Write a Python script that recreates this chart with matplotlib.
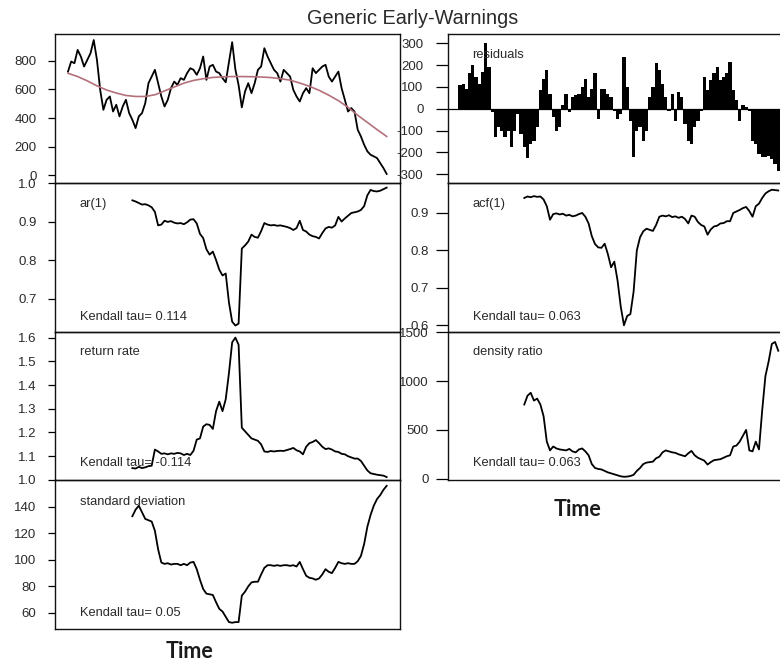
import matplotlib
matplotlib.use("Agg")
import matplotlib.pyplot as plt
import numpy as np

# ---------------- data ----------------
time_full = np.arange(100)
values = [725, 795, 783, 876, 830, 760, 806, 853, 945, 806,
          597, 458, 528, 551, 446, 493, 412, 481, 528, 435,
          388, 330, 412, 435, 504, 644, 690, 737, 644, 551,
          481, 528, 609, 655, 632, 679, 667, 714, 748, 737,
          702, 748, 830, 667, 760, 772, 725, 714, 679, 650,
          790, 930, 740, 630, 475, 586, 644, 574, 644, 737,
          760, 888, 830, 783, 737, 714, 655, 737, 714, 690,
          597, 551, 516, 574, 609, 574, 748, 714, 737, 760,
          772, 690, 655, 690, 725, 609, 528, 446, 470, 446,
          319, 272, 214, 168, 144, 133, 121, 86, 51, 10]

trend_time = np.arange(0, 100, 3)
trend = [713, 690, 660, 625, 596, 575, 558, 551, 551, 563,
         590, 617, 644, 663, 675, 684, 688, 690, 690, 689,
         687, 683, 675, 665, 645, 622, 594, 560, 522, 475,
         420, 370, 320, 272]

residuals = [108, 115, 92, 162, 200, 146, 115, 169, 300, 192,
             -15, -131, -85, -100, -131, -100, -177, -100, -23, -115,
             -177, -225, -162, -146, -85, 85, 138, 177, 69, -38,
             -100, -85, 15, 69, -15, 54, 62, 69, 100, 138,
             54, 92, 162, -46, 92, 92, 69, 54, -8, -46,
             -23, 238, 100, -54, -223, -100, -85, -146, -100, 54,
             100, 208, 177, 115, 54, -8, 69, -54, 77, 54,
             -69, -146, -162, -85, -54, -8, 146, 85, 131, 162,
             192, 131, 146, 162, 215, 85, 38, -54, 15, 8,
             -8, -146, -162, -208, -223, -223, -215, -231, -254, -284]

ind_time = np.arange(20, 100)
ar1 = [0.955, 0.952, 0.948, 0.944, 0.945, 0.942, 0.937, 0.925, 0.890, 0.892,
       0.902, 0.899, 0.901, 0.897, 0.895, 0.896, 0.893, 0.898, 0.905, 0.906,
       0.895, 0.868, 0.857, 0.828, 0.814, 0.822, 0.800, 0.775, 0.760, 0.765,
       0.690, 0.640, 0.630, 0.635, 0.830, 0.838, 0.848, 0.866, 0.860, 0.858,
       0.875, 0.896, 0.892, 0.890, 0.891, 0.889, 0.890, 0.888, 0.886, 0.883,
       0.878, 0.883, 0.902, 0.878, 0.874, 0.866, 0.862, 0.860, 0.856, 0.870,
       0.882, 0.886, 0.884, 0.890, 0.912, 0.900, 0.908, 0.915, 0.922, 0.924,
       0.926, 0.930, 0.940, 0.968, 0.982, 0.979, 0.978, 0.980, 0.984, 0.988]

acf1 = [0.940, 0.944, 0.942, 0.945, 0.943, 0.944, 0.936, 0.918, 0.882, 0.897,
        0.899, 0.896, 0.898, 0.893, 0.895, 0.891, 0.893, 0.897, 0.900, 0.890,
        0.872, 0.838, 0.817, 0.808, 0.807, 0.818, 0.790, 0.755, 0.770, 0.720,
        0.650, 0.600, 0.625, 0.630, 0.690, 0.800, 0.835, 0.851, 0.858, 0.855,
        0.852, 0.868, 0.890, 0.893, 0.891, 0.894, 0.889, 0.891, 0.887, 0.890,
        0.884, 0.872, 0.893, 0.890, 0.876, 0.868, 0.864, 0.842, 0.856, 0.864,
        0.866, 0.872, 0.873, 0.878, 0.878, 0.900, 0.904, 0.908, 0.913, 0.916,
        0.905, 0.890, 0.918, 0.925, 0.940, 0.952, 0.958, 0.962, 0.961, 0.960]

return_rate = [1.050, 1.048, 1.055, 1.050, 1.053, 1.058, 1.060, 1.128, 1.120, 1.110,
               1.112, 1.108, 1.112, 1.110, 1.114, 1.112, 1.105, 1.110, 1.105, 1.123,
               1.170, 1.175, 1.225, 1.235, 1.232, 1.215, 1.290, 1.330, 1.290, 1.340,
               1.450, 1.580, 1.600, 1.570, 1.220, 1.205, 1.190, 1.175, 1.170, 1.165,
               1.150, 1.120, 1.118, 1.122, 1.120, 1.122, 1.123, 1.122, 1.126, 1.130,
               1.135, 1.125, 1.120, 1.108, 1.140, 1.155, 1.160, 1.168, 1.155, 1.140,
               1.130, 1.133, 1.128, 1.120, 1.118, 1.110, 1.108, 1.100, 1.095, 1.090,
               1.090, 1.080, 1.060, 1.040, 1.028, 1.025, 1.022, 1.020, 1.018, 1.012]

density_ratio = [760, 850, 880, 800, 820, 760, 640, 380, 290, 330,
                 310, 300, 295, 290, 305, 280, 270, 300, 310, 280,
                 240, 150, 110, 100, 95, 80, 65, 55, 45, 35,
                 25, 20, 22, 28, 40, 80, 110, 150, 165, 170,
                 175, 210, 225, 270, 290, 280, 270, 265, 250, 240,
                 230, 260, 285, 240, 215, 200, 185, 145, 170, 190,
                 195, 200, 215, 230, 240, 330, 340, 380, 440, 500,
                 290, 280, 380, 300, 700, 1050, 1200, 1380, 1400, 1310]

std_dev = [133, 138, 141, 136, 131, 130, 129, 122, 108, 98,
           97, 97.5, 96.5, 97, 97, 96, 97, 96, 98, 98.5,
           93, 85, 78, 74.5, 74, 73.5, 68, 63, 61, 57,
           53, 52.5, 53, 53, 73, 76, 80, 83, 83.5, 83.5,
           89, 94, 96, 96, 95.5, 96, 95.5, 96, 96, 95.5,
           96, 95, 98.5, 93, 88, 86.5, 86, 85, 86, 89,
           93, 91, 90, 94, 98.5, 97.5, 97, 97.5, 97, 97,
           99, 103, 112, 125, 134, 141, 146, 149, 153, 156]

panel_labels = ["ar(1)", "acf(1)", "return rate", "density ratio", "standard deviation"]
tau_labels = ["Kendall tau= 0.114", "Kendall tau= 0.063", "Kendall tau= -0.114",
              "Kendall tau= 0.063", "Kendall tau= 0.05"]

# ---------------- layout ----------------
W, H = 780, 660
fig = plt.figure(figsize=(W / 100, H / 100), dpi=100)
fig.patch.set_facecolor("white")

FONT = "Liberation Sans"
TXT = "#2a2a2a"
col_left = [54.5, 448.3]
col_w = 345.5
row_top = [34.3, 183.0, 331.7, 480.4]
row_h = 148.7
# x-limits per column (data index 0..99)
xlims = [(-4.19, 103.14), (-3.64, 103.83)]


def make_ax(col, row, ylim, yticks, ylabels, tick_len, pad):
    ax = fig.add_axes([col_left[col] / W, 1 - (row_top[row] + row_h) / H,
                       col_w / W, row_h / H])
    ax.set_xlim(*xlims[col])
    ax.set_ylim(*ylim)
    ax.set_xticks([])
    ax.set_yticks(yticks)
    ax.set_yticklabels(ylabels, fontfamily=FONT, fontsize=9.5, color=TXT)
    ax.tick_params(axis="y", direction="out", length=tick_len, width=0.9,
                   pad=pad, colors="black", labelcolor=TXT)
    for s in ax.spines.values():
        s.set_linewidth(1.0)
        s.set_color("#111111")
    ax.set_facecolor("none")
    return ax


def px_text(x, y, s, **kw):
    fig.text(x / W, 1 - y / H, s, fontfamily=FONT, fontsize=9.3, color=TXT,
             va="center", ha="left", **kw)


LW = 1.3
# left column -----------------------------------------------------
ax0 = make_ax(0, 0, (-53, 985), [0, 200, 400, 600, 800],
              ["0", "200", "400", "600", "800"], 5, 8)
ax0.plot(time_full, values, color="black", lw=LW)
ax0.plot(trend_time, trend, color="#b4707a", lw=1.2)

ax1 = make_ax(0, 1, (0.614, 1.0), [0.7, 0.8, 0.9, 1.0],
              ["0.7", "0.8", "0.9", "1.0"], 5, 8)
ax1.plot(ind_time, ar1, color="black", lw=LW)

ax2 = make_ax(0, 2, (0.998, 1.625), [1.0, 1.1, 1.2, 1.3, 1.4, 1.5, 1.6],
              ["1.0", "1.1", "1.2", "1.3", "1.4", "1.5", "1.6"], 5, 8)
ax2.plot(ind_time, return_rate, color="black", lw=LW)

ax3 = make_ax(0, 3, (47.7, 160.1), [60, 80, 100, 120, 140],
              ["60", "80", "100", "120", "140"], 5, 8)
ax3.plot(ind_time, std_dev, color="black", lw=LW)

# right column ----------------------------------------------------
ax4 = make_ax(1, 0, (-340, 341), [-300, -200, -100, 0, 100, 200, 300],
              ["-300", "-200", "-100", "0", "100", "200", "300"], 8.5, 9.4)
ax4.bar(time_full, residuals, width=1.0, color="black", linewidth=0)
ax4.axhline(0, color="black", lw=0.9)

ax5 = make_ax(1, 1, (0.583, 0.980), [0.6, 0.7, 0.8, 0.9],
              ["0.6", "0.7", "0.8", "0.9"], 8.5, 5.4)
ax5.plot(ind_time, acf1, color="black", lw=LW)

ax6 = make_ax(1, 2, (-17, 1505), [0, 500, 1000, 1500],
              ["0", "500", "1000", "1500"], 8.5, 5.4)
ax6.plot(ind_time, density_ratio, color="black", lw=LW)

# ---------------- texts ----------------
px_text(472, 55, "residuals")
px_text(80, 204, panel_labels[0])
px_text(80, 317, tau_labels[0])
px_text(473, 204, panel_labels[1])
px_text(473, 317, tau_labels[1])
px_text(80, 352, panel_labels[2])
px_text(80, 463, tau_labels[2])
px_text(473, 352, panel_labels[3])
px_text(473, 463, tau_labels[3])
px_text(80, 502, panel_labels[4])
px_text(80, 613, tau_labels[4])

fig.text(412.5 / W, 1 - 18.5 / H, "Generic Early-Warnings", fontfamily=FONT,
         fontsize=14.3, color=TXT, ha="center", va="center")
fig.text(190 / W, 1 - 651 / H, "Time", fontfamily="Lato", fontweight="bold",
         fontsize=15.5, color="#1a1a1a", ha="center", va="center")
fig.text(577 / W, 1 - 510 / H, "Time", fontfamily="Lato", fontweight="bold",
         fontsize=15.5, color="#1a1a1a", ha="center", va="center")

fig.savefig("out.png", dpi=100, facecolor="white")
